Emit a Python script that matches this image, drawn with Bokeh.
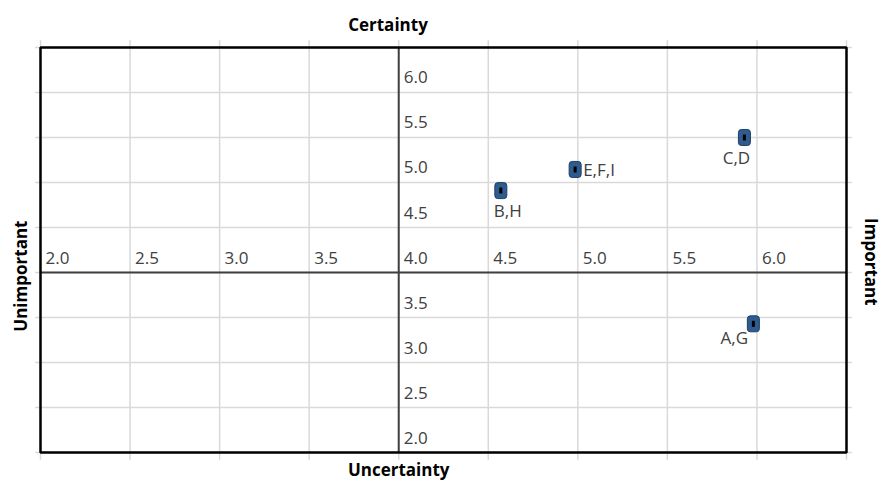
from math import pi
from bokeh.plotting import figure
from bokeh.models import Range1d, ColumnDataSource
from bokeh.core.properties import value
from bokeh.embed import file_html
from bokeh.resources import INLINE

# ---- data ----
x_ticks = [2.0, 2.5, 3.0, 3.5, 4.0, 4.5, 5.0, 5.5, 6.0]
x_tick_labels = ["2.0", "2.5", "3.0", "3.5", "4.0", "4.5", "5.0", "5.5", "6.0"]
y_ticks = [2.0, 2.5, 3.0, 3.5, 4.5, 5.0, 5.5, 6.0]
y_tick_labels = ["2.0", "2.5", "3.0", "3.5", "4.5", "5.0", "5.5", "6.0"]
grid_ticks = [2.0, 2.5, 3.0, 3.5, 4.0, 4.5, 5.0, 5.5, 6.0, 6.5]
lo, hi = 2.0, 6.5          # extent of both scales
cross = 4.0                # where the two axes cross

point_labels = ["B,H", "E,F,I", "C,D", "A,G"]
importance = [4.57, 4.985, 5.93, 5.98]
certainty = [4.91, 5.145, 5.50, 3.43]

titles = ["Certainty", "Uncertainty", "Unimportant", "Important"]

# ---- presentation ----
label_dx = [7, 8, -8, -19]
label_dy = [20, 0, 20, 14]
label_align = ["center", "left", "center", "center"]

title_x = [3.94, 4.0, 1.888, 6.64]
title_y = [6.756, 1.811, 3.96, 4.118]
title_angle = [0.0, 0.0, pi / 2, -pi / 2]

FONT = "Open Sans"
TXT = "#404040"

# whole canvas is the drawing frame: 2.0..6.5 maps to x 40..846 px and y 452..47 px
p = figure(width=884, height=482, x_range=Range1d(1.77668, 6.71216),
           y_range=Range1d(1.66667, 7.02222),
           output_backend="svg", toolbar_location=None,
           x_axis_location=None, y_axis_location=None,
           min_border_left=0, min_border_right=0, min_border_top=0, min_border_bottom=0)
p.background_fill_color = "white"
p.border_fill_color = "white"
p.outline_line_color = None
p.grid.visible = False

# grid lines (slightly overshooting the frame as in the original)
n = len(grid_ticks)
p.segment(x0=grid_ticks, y0=[lo - 0.08] * n, x1=grid_ticks, y1=[hi + 0.08] * n,
          line_color="#d9d9d9", line_width=1.5)
p.segment(x0=[lo - 0.03] * n, y0=grid_ticks, x1=[hi + 0.03] * n, y1=grid_ticks,
          line_color="#d9d9d9", line_width=1.5)

# central axes
p.segment(x0=[cross, lo], y0=[lo, cross], x1=[cross, hi], y1=[hi, cross],
          line_color="#404040", line_width=2)

# border
p.quad(left=[lo], right=[hi], bottom=[lo], top=[hi], fill_color=None,
       line_color="black", line_width=2.5)

# tick labels
p.text(x=x_ticks, y=[cross] * len(x_ticks), text=x_tick_labels, x_offset=5, y_offset=-15,
       text_font=value(FONT), text_font_size="17px", text_color=TXT,
       text_align="left", text_baseline="middle")
p.text(x=[cross] * len(y_ticks), y=y_ticks, text=y_tick_labels, x_offset=5, y_offset=-15,
       text_font=value(FONT), text_font_size="17px", text_color=TXT,
       text_align="left", text_baseline="middle")

# points
src = ColumnDataSource(dict(x=importance, y=certainty, label=point_labels,
                            dx=label_dx, dy=label_dy, align=label_align))
p.rect(x="x", y="y", width=12, height=16, width_units="screen", height_units="screen",
       fill_color="#2f5c8f", line_color="#1f3f66", line_width=1, border_radius=3, source=src)
p.rect(x="x", y="y", width=3, height=6, width_units="screen", height_units="screen",
       fill_color="black", line_color=None, source=src)
p.text(x="x", y="y", text="label", x_offset="dx", y_offset="dy", text_align="align",
       text_baseline="middle", text_font=value(FONT), text_font_size="17px",
       text_color=TXT, source=src)

# quadrant titles
p.text(x=title_x, y=title_y, text=titles, angle=title_angle, text_align="center",
       text_baseline="middle", text_font=value(FONT), text_font_size="17px",
       text_font_style="bold", text_color="black")

open("out.html", "w").write(file_html(p, INLINE))
